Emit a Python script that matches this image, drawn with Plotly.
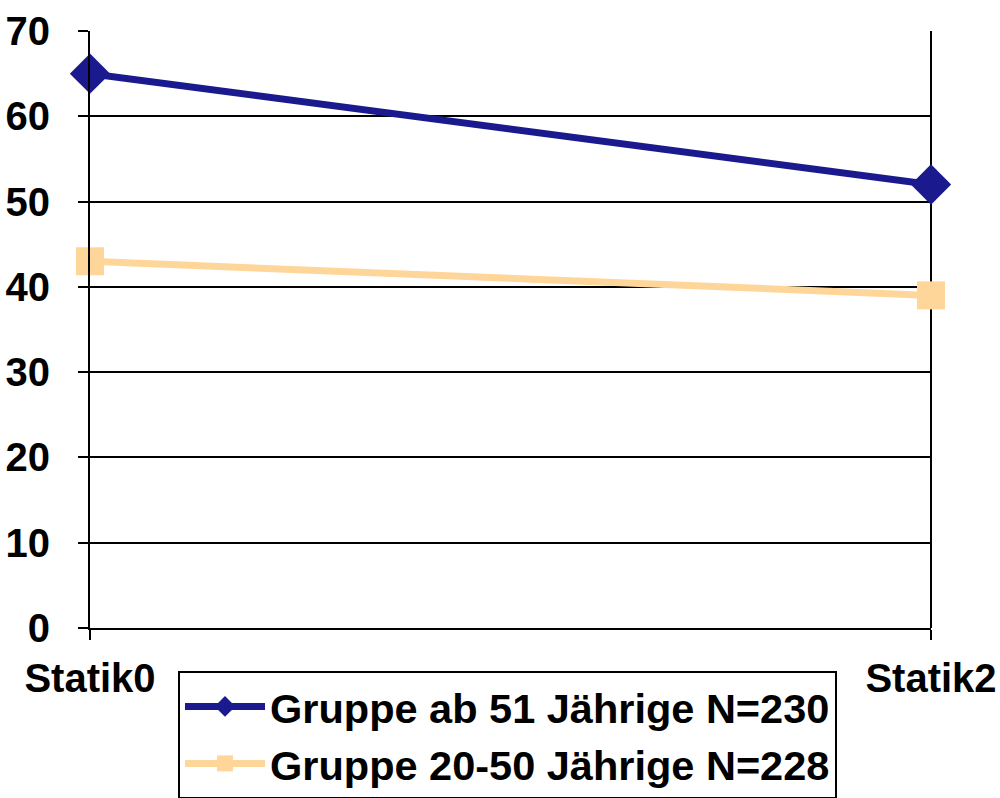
import plotly.graph_objects as go

categories = ["Statik0", "Statik2"]
series_names = ["Gruppe ab 51 Jährige N=230", "Gruppe 20-50 Jährige N=228"]
values_old = [65, 52]
values_young = [43, 39]
y_ticks = [0, 10, 20, 30, 40, 50, 60, 70]

FAM = "Liberation Sans, Arial, sans-serif"

fig = go.Figure()
fig.add_trace(go.Scatter(
    x=categories, y=values_old, name=series_names[0], mode="lines+markers",
    line=dict(color="#1a1a8e", width=7),
    marker=dict(symbol="diamond", size=31, color="#1a1a8e"),
    legendgroup="a", cliponaxis=False,
))
fig.add_trace(go.Scatter(
    x=categories, y=values_young, name=series_names[1], mode="lines+markers",
    line=dict(color="#ffd699", width=7),
    marker=dict(symbol="square", size=28, color="#ffd699"),
    legendgroup="b", cliponaxis=False,
))

fig.update_layout(
    width=1000, height=798,
    margin=dict(l=90, r=69, t=31, b=170, autoexpand=False),
    paper_bgcolor="white", plot_bgcolor="white",
    font=dict(family=FAM, size=40, color="black"),
    showlegend=True,
    legend=dict(
        xref="container", yref="container",
        x=0.178, y=1 - 671 / 798, xanchor="left", yanchor="top",
        bordercolor="black", borderwidth=2,
        font=dict(family=FAM, size=41.5, color="black", weight="bold"),
        traceorder="grouped", tracegroupgap=0, itemwidth=80,
    ),
    xaxis=dict(
        type="category", range=[0, 1], automargin=False,
        showgrid=False, showline=True, linecolor="black", linewidth=2,
        ticks="outside", ticklen=10, tickwidth=2, tickcolor="black",
        tickfont=dict(family=FAM, size=40, color="black", weight="bold"),
        ticklabelstandoff=4,
    ),
    yaxis=dict(
        range=[0, 70], tickvals=y_ticks, automargin=False,
        showgrid=True, gridcolor="black", gridwidth=2,
        showline=True, linecolor="black", linewidth=2,
        ticks="outside", ticklen=10, tickwidth=2, tickcolor="black",
        tickfont=dict(family=FAM, size=40, color="black", weight="bold"),
        ticklabelstandoff=20, zeroline=False,
    ),
)
fig.add_shape(type="line", xref="paper", yref="paper", x0=1, x1=1, y0=0, y1=1,
              line=dict(color="black", width=2), layer="below")

fig.write_html("out.html", config={"displayModeBar": False},
               post_script="document.body.style.margin='0';")
